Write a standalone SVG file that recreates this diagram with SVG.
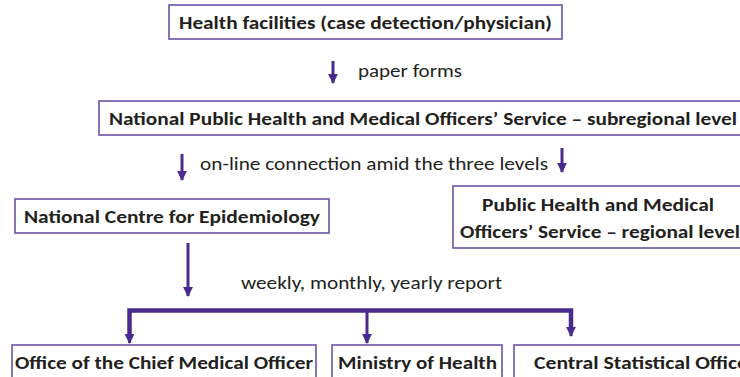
<svg xmlns="http://www.w3.org/2000/svg" width="740" height="377" viewBox="0 0 740 377">
<style>
.box{fill:#fff;stroke:#6a52a3;stroke-width:1.6}
.t{font-family:Carlito,"Open Sans","Liberation Sans",sans-serif;font-size:18.5px;fill:#231f20}
.b{font-weight:bold}
.ln{stroke:#4b2a8f;stroke-width:3;fill:none}
.bar{stroke:#4b2a8f;stroke-width:4.5;fill:none;stroke-linejoin:miter}
</style>
<defs>
<marker id="ah" viewBox="0 0 10 10" refX="9" refY="5" markerWidth="3.3" markerHeight="3.3" orient="auto" markerUnits="strokeWidth">
<path d="M0,0 L10,5 L0,10 z" fill="#4b2a8f"/>
</marker>
</defs>
<rect width="740" height="377" fill="#fff"/>
<g id="connectors">
<line class="ln" x1="333" y1="61" x2="333" y2="83" marker-end="url(#ah)"/>
<line class="ln" x1="182" y1="154" x2="182" y2="180" marker-end="url(#ah)"/>
<line class="ln" x1="562" y1="148" x2="562" y2="172" marker-end="url(#ah)"/>
<line class="ln" x1="188" y1="243" x2="188" y2="296" marker-end="url(#ah)"/>
<polyline class="bar" points="129.5,335 129.5,310.5 571,310.5 571,330"/>
<line class="ln" x1="129.5" y1="312" x2="129.5" y2="343" marker-end="url(#ah)"/>
<line class="ln" x1="367" y1="312" x2="367" y2="343" marker-end="url(#ah)"/>
<line class="ln" x1="571" y1="312" x2="571" y2="336" marker-end="url(#ah)"/>
<text class="t" x="358" y="77" textLength="104" lengthAdjust="spacingAndGlyphs">paper forms</text>
<text class="t" x="200" y="170" textLength="348" lengthAdjust="spacingAndGlyphs">on-line connection amid the three levels</text>
<text class="t" x="241" y="289" textLength="261" lengthAdjust="spacingAndGlyphs">weekly, monthly, yearly report</text>
</g>
<g id="health-facilities">
<rect class="box" x="169" y="5" width="393" height="34"/>
<text class="t b" x="179" y="28.5" textLength="373" lengthAdjust="spacingAndGlyphs">Health facilities (case detection/physician)</text>
</g>
<g id="subregional">
<rect class="box" x="99" y="101" width="650" height="34"/>
<text class="t b" x="109" y="124.5" textLength="628" lengthAdjust="spacingAndGlyphs">National Public Health and Medical Officers’ Service – subregional level</text>
</g>
<g id="nce">
<rect class="box" x="15" y="199" width="314" height="34"/>
<text class="t b" x="24" y="222.5" textLength="296" lengthAdjust="spacingAndGlyphs">National Centre for Epidemiology</text>
</g>
<g id="regional">
<rect class="box" x="453" y="186" width="300" height="62"/>
<text class="t b" x="482" y="210.5" textLength="232" lengthAdjust="spacingAndGlyphs">Public Health and Medical</text>
<text class="t b" x="460" y="237.5" textLength="280" lengthAdjust="spacingAndGlyphs">Officers’ Service – regional level</text>
</g>
<g id="cmo">
<rect class="box" x="12" y="345" width="304" height="40"/>
<text class="t b" x="15" y="368.5" textLength="298" lengthAdjust="spacingAndGlyphs">Office of the Chief Medical Officer</text>
</g>
<g id="moh">
<rect class="box" x="332" y="345" width="170" height="40"/>
<text class="t b" x="338" y="368.5" textLength="159" lengthAdjust="spacingAndGlyphs">Ministry of Health</text>
</g>
<g id="cso">
<rect class="box" x="514" y="345" width="240" height="40"/>
<text class="t b" x="534" y="368.5" textLength="214" lengthAdjust="spacingAndGlyphs">Central Statistical Office</text>
</g>
</svg>
